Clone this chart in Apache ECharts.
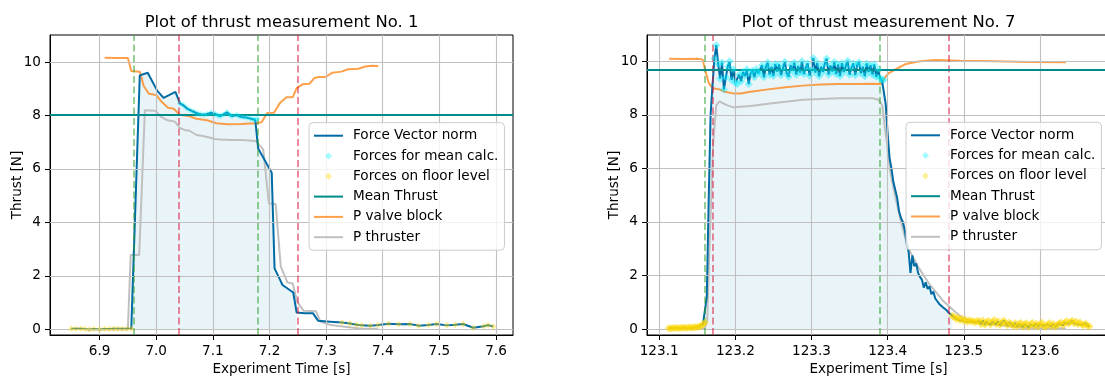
<!DOCTYPE html>
<html>
<head>
<meta charset="utf-8">
<script src="https://cdn.jsdelivr.net/npm/echarts@6/dist/echarts.min.js"></script>
<style>html,body{margin:0;padding:0;background:#fff;}#c{width:1105px;height:376px;}</style>
</head>
<body>
<div id="c"></div>
<script>
// ===== Measurement No. 1 =====
const m1Title = 'Plot of thrust measurement No. 1';
const m1ForceT = [6.850,6.858,6.867,6.874,6.882,6.890,6.900,6.909,6.917,6.925,6.932,6.940,6.948,6.956,6.971,6.985,7.002,7.013,7.034,7.042,7.048,7.054,7.060,7.066,7.072,7.078,7.084,7.090,7.097,7.104,7.109,7.113,7.119,7.125,7.130,7.134,7.142,7.148,7.154,7.160,7.166,7.171,7.175,7.178,7.180,7.204,7.209,7.219,7.223,7.242,7.248,7.262,7.277,7.286,7.307,7.328,7.342,7.354,7.363,7.378,7.392,7.410,7.428,7.448,7.463,7.481,7.495,7.513,7.528,7.542,7.560,7.578,7.586,7.595];
const m1ForceV = [0.02,0.02,0.02,0.01,0.00,0.01,0.00,0.01,0.01,0.02,0.02,0.02,0.02,0.02,9.50,9.60,8.92,8.66,8.88,8.45,8.38,8.27,8.20,8.14,8.08,8.05,8.03,8.06,8.10,8.06,8.00,7.98,8.04,8.12,8.03,7.98,8.02,7.96,7.93,7.92,7.89,7.86,7.83,7.89,6.77,5.86,2.28,1.84,1.66,1.38,0.63,0.60,0.60,0.32,0.29,0.26,0.22,0.17,0.15,0.14,0.16,0.21,0.19,0.20,0.14,0.16,0.20,0.15,0.17,0.20,0.06,0.12,0.16,0.11];
const m1ValveT = [6.909,6.930,6.950,6.956,6.971,6.978,6.987,7.000,7.010,7.021,7.031,7.042,7.059,7.071,7.090,7.106,7.126,7.150,7.175,7.186,7.196,7.208,7.219,7.230,7.241,7.248,7.259,7.271,7.279,7.287,7.299,7.311,7.327,7.339,7.357,7.369,7.381,7.392];
const m1ValveV = [10.16,10.15,10.15,9.66,9.64,9.10,8.81,8.77,8.50,8.29,8.25,8.03,7.97,7.88,7.82,7.71,7.67,7.68,7.71,7.75,8.09,8.10,8.48,8.68,8.68,9.02,9.17,9.19,9.40,9.44,9.44,9.60,9.64,9.73,9.75,9.83,9.86,9.85];
const m1ThrT = [6.909,6.950,6.955,6.970,6.980,6.998,7.008,7.020,7.033,7.042,7.050,7.059,7.071,7.083,7.104,7.114,7.132,7.150,7.176,7.189,7.199,7.211,7.220,7.232,7.241,7.249,7.260,7.282,7.290,7.308,7.333,7.363,7.392];
const m1ThrV = [0.00,0.00,2.78,2.78,8.20,8.18,7.96,7.82,7.77,7.53,7.46,7.43,7.27,7.23,7.12,7.10,7.08,7.08,7.05,6.72,4.71,4.69,2.34,1.75,1.72,1.03,0.70,0.68,0.29,0.16,0.10,0.02,0.02];
const m1Mean = 8.03;
const m1Green = [6.956, 7.176];
const m1Red = [7.043, 7.249];
const m1MeanRange = [7.042, 7.178];
const m1FloorRanges = [[6.84, 6.957], [7.327, 7.60]];
const m1FillRange = [6.956, 7.249];
const m1XRange = [6.8125, 7.630];
const m1YRange = [-0.21, 11.01];
const m1XTicks = [6.9, 7.0, 7.1, 7.2, 7.3, 7.4, 7.5, 7.6];

// ===== Measurement No. 7 =====
const m7Title = 'Plot of thrust measurement No. 7';
const m7ForceStart = 123.1125;
const m7ForceStep = 0.0025;
const m7ForceV = [
 0.03,0.02,0.04,0.03,0.05,0.04,0.03,0.05,0.06,0.04,0.05,0.07,0.05,0.06,0.08,0.07,0.10,0.12,0.18,0.25,
 1.2,4.8,8.0,9.1,10.1,10.6,9.9,9.35,9.95,8.95,9.4,9.8,10.0,9.3,9.7,9.2,9.15,9.5,9.25,9.6,9.45,9.7,9.15,9.55,9.65,9.4,9.7,9.55,
 9.55,9.85,9.40,9.78,9.95,9.50,9.80,9.45,9.90,9.62,
 9.88,9.48,9.75,9.98,9.55,9.42,9.86,9.65,9.95,9.50,
 9.82,9.58,10.0,9.52,9.76,9.92,9.46,9.70,10.12,9.58,
 9.94,9.44,9.80,9.60,9.92,10.10,9.50,9.84,9.62,9.97,
 9.52,9.88,9.45,9.93,9.60,9.82,10.02,9.50,9.76,9.92,
 9.48,9.86,9.96,9.55,9.80,9.44,9.92,9.60,9.85,9.50,
 9.88,9.42,9.70,9.38,9.30,
 9.3,
 8.4,7.3,6.4,6.0,5.5,5.2,4.9,4.4,4.15,4.0,3.7,3.2,2.9,2.1,2.75,2.35,2.45,2.1,1.95,1.85,1.55,1.75,1.5,1.6,1.3,1.4,1.15,1.05,0.95,0.9,0.82,0.75,0.7,0.62,0.55,0.5,0.45,0.38,0.42,0.33,0.4,0.3,0.35,0.27,0.33,0.28,0.3,0.25,0.3,
 0.30,0.18,0.32,0.16,0.26,0.31,0.17,0.27,0.34,0.19,
 0.29,0.15,0.24,0.32,0.22,0.14,0.25,0.18,0.12,0.23,
 0.10,0.19,0.24,0.09,0.18,0.22,0.08,0.17,0.24,0.12,
 0.20,0.10,0.18,0.25,0.12,0.08,0.17,0.23,0.11,0.19,
 0.09,0.15,0.21,0.25,0.14,0.24,0.30,0.20,0.27,0.31,
 0.21,0.28,0.18,0.25,0.17,0.14,0.21,0.13,0.10
];
const m7ValveT = [123.113,123.130,123.150,123.157,123.161,123.165,123.170,123.179,123.186,123.197,123.207,123.220,123.243,123.266,123.289,123.312,123.335,123.358,123.380,123.392,123.396,123.402,123.412,123.424,123.440,123.463,123.495,123.541,123.586,123.634];
const m7ValveV = [10.09,10.08,10.09,10.07,9.61,9.20,8.99,8.95,8.86,8.80,8.80,8.86,8.95,9.03,9.09,9.13,9.15,9.15,9.16,9.15,9.38,9.57,9.72,9.90,9.99,10.05,10.02,10.00,9.97,9.96];
const m7ThrT = [123.113,123.160,123.163,123.166,123.171,123.175,123.179,123.188,123.197,123.220,123.243,123.266,123.289,123.335,123.380,123.388,123.393,123.396,123.399,123.403,123.410,123.417,123.426,123.440,123.454,123.472,123.486,123.499,123.518,123.545,123.577,123.634];
const m7ThrV = [0.02,0.03,0.30,3.00,7.00,8.35,8.50,8.37,8.28,8.33,8.41,8.49,8.56,8.62,8.62,8.56,8.35,7.60,6.94,5.94,4.94,4.07,3.08,2.33,1.71,1.08,0.71,0.40,0.27,0.15,0.05,0.02];
const m7Mean = 9.68;
const m7Green = [123.161, 123.395];
const m7Red = [123.172, 123.485];
const m7MeanRange = [123.172, 123.395];
const m7FloorRanges = [[123.11, 123.162], [123.485, 123.67]];
const m7FillRange = [123.161, 123.485];
const m7XRange = [123.084, 123.692];
const m7YRange = [-0.22, 10.98];
const m7XTicks = [123.1, 123.2, 123.3, 123.4, 123.5, 123.6];

const yTicks = [0, 2, 4, 6, 8, 10];
const legendNames = ['Force Vector norm', 'Forces for mean calc.', 'Forces on floor level', 'Mean Thrust', 'P valve block', 'P thruster'];

// ===== styling =====
const FONT = 'DejaVu Sans';
const FS = 13.6;
const C_FORCE = '#006ba4';
const C_MEAN = '#008b8b', C_VALVE = 'rgba(255,128,14,0.75)', C_THR = '#c0c0c0';
const C_GREEN = 'rgba(44,160,44,0.5)', C_RED = 'rgba(220,20,60,0.5)';
const C_GRID = '#c0c0c0';
const ICON_LINE = 'path://M0,0 M29,7 M0,2.5 L29,2.5 L29,4.5 L0,4.5 Z';
const ICON_DIAMOND = 'path://M0,0 M29,7 M14.5,0 L18,3.5 L14.5,7 L11,3.5 Z';

const m7ForceT = m7ForceV.map((_, i) => +(m7ForceStart + i * m7ForceStep).toFixed(4));

function pairs(ts, vs) { return ts.map((t, i) => [t, vs[i]]); }
function within(pts, r) { return pts.filter(p => p[0] >= r[0] - 1e-9 && p[0] <= r[1] + 1e-9); }

const charts = [
  {title: m1Title, fT: m1ForceT, fV: m1ForceV, vT: m1ValveT, vV: m1ValveV, tT: m1ThrT, tV: m1ThrV, mean: m1Mean,
   green: m1Green, red: m1Red, meanR: m1MeanRange, floorR: m1FloorRanges, fillR: m1FillRange, xr: m1XRange, yr: m1YRange, xt: m1XTicks,
   grid: {left: 50, top: 35, width: 463, height: 300}, legendPos: {left: 309, top: 122.7}, ms: 6.5,
   cMeanPts: 'rgba(0,240,255,0.45)', cFloor: 'rgba(255,215,0,0.5)'},
  {title: m7Title, fT: m7ForceT, fV: m7ForceV, vT: m7ValveT, vV: m7ValveV, tT: m7ThrT, tV: m7ThrV, mean: m7Mean,
   green: m7Green, red: m7Red, meanR: m7MeanRange, floorR: m7FloorRanges, fillR: m7FillRange, xr: m7XRange, yr: m7YRange, xt: m7XTicks,
   grid: {left: 647, top: 35, width: 463, height: 300}, legendPos: {left: 906, top: 122.3}, ms: 8,
   cMeanPts: 'rgba(0,240,255,0.55)', cFloor: 'rgba(255,215,0,0.7)'}
];

const option = {animation: false, title: [], grid: [], xAxis: [], yAxis: [], legend: [], series: []};
const txt = {fontFamily: FONT, fontSize: FS, color: '#000'};
const legendData = legendNames.map((n, i) => ({name: n, icon: (i === 1 || i === 2) ? ICON_DIAMOND : ICON_LINE}));

charts.forEach((d, k) => {
  const g = d.grid;
  option.title.push({text: d.title, left: g.left + g.width / 2, top: 14, textAlign: 'center', padding: 0,
    textStyle: {fontFamily: FONT, fontSize: 16.4, fontWeight: 'normal', color: '#000', lineHeight: 18}});
  option.grid.push(Object.assign({show: true, borderColor: '#000', borderWidth: 1, backgroundColor: 'transparent',
    containLabel: false, outerBoundsMode: 'none'}, g));
  option.xAxis.push({type: 'value', gridIndex: k, min: d.xr[0], max: d.xr[1],
    axisLine: {show: true, onZero: false, lineStyle: {color: '#000', width: 1}},
    axisTick: {show: true, inside: false, length: 5, lineStyle: {color: '#000', width: 1}, customValues: d.xt},
    axisLabel: {show: true, customValues: d.xt, margin: 9, formatter: v => v.toFixed(1), ...txt},
    splitLine: {show: false},
    name: 'Experiment Time [s]', nameLocation: 'middle', nameGap: 25, nameTextStyle: txt});
  option.yAxis.push({type: 'value', gridIndex: k, min: d.yr[0], max: d.yr[1],
    axisLine: {show: true, onZero: false, lineStyle: {color: '#000', width: 1}},
    axisTick: {show: true, inside: false, length: 5, lineStyle: {color: '#000', width: 1}, customValues: yTicks},
    axisLabel: {show: true, customValues: yTicks, margin: 9, formatter: v => String(v), ...txt},
    splitLine: {show: false},
    name: 'Thrust [N]', nameLocation: 'middle', nameGap: 25.5, nameRotate: 90, nameMoveOverlap: false, nameTextStyle: txt});
  option.legend.push({data: legendData, orient: 'vertical', left: d.legendPos.left, top: d.legendPos.top,
    itemWidth: 29, itemHeight: 7, itemGap: 6.3, padding: [6, 6, 6, 5], selectedMode: false,
    itemStyle: {borderWidth: 0},
    backgroundColor: 'rgba(255,255,255,0.8)', borderColor: '#cccccc', borderWidth: 1, borderRadius: 4,
    textStyle: {fontFamily: FONT, fontSize: FS, color: '#000', lineHeight: 14, padding: [0, 0, 0, 5]}, z: 20});

  const ax = {xAxisIndex: k, yAxisIndex: k};
  const force = pairs(d.fT, d.fV);
  const noLbl = {show: false};
  option.series.push(
    {...ax, type: 'line', name: '_grid' + k, data: [], z: 0, silent: true,
     markLine: {symbol: ['none', 'none'], silent: true, label: noLbl, animation: false,
       lineStyle: {color: C_GRID, width: 1.1, type: 'solid'},
       data: d.xt.map(v => ({xAxis: v})).concat(yTicks.map(v => ({yAxis: v})))}},
    {...ax, type: 'line', name: '_fill' + k, data: within(force, d.fillR), symbol: 'none', silent: true, z: 1,
     lineStyle: {width: 0, color: 'transparent'}, areaStyle: {color: 'rgba(173,216,230,0.4)', origin: 0}},
    {...ax, type: 'line', name: 'P thruster', data: pairs(d.tT, d.tV), symbol: 'none', z: 2, silent: true,
     lineStyle: {color: C_THR, width: 2}, itemStyle: {color: C_THR}},
    {...ax, type: 'line', name: 'P valve block', data: pairs(d.vT, d.vV), symbol: 'none', z: 3, silent: true,
     lineStyle: {color: C_VALVE, width: 2}, itemStyle: {color: C_VALVE}},
    {...ax, type: 'line', name: '_vlines' + k, data: [], z: 3, silent: true,
     markLine: {symbol: ['none', 'none'], silent: true, label: noLbl, animation: false,
       data: d.green.map(v => ({xAxis: v, lineStyle: {color: C_GREEN, width: 2, type: [7, 3.5]}}))
         .concat(d.red.map(v => ({xAxis: v, lineStyle: {color: C_RED, width: 2, type: [7, 3.5]}})))}},
    {...ax, type: 'line', name: 'Force Vector norm', data: force, symbol: 'none', z: 4, silent: true,
     lineStyle: {color: C_FORCE, width: 2}, itemStyle: {color: C_FORCE}},
    {...ax, type: 'scatter', name: 'Forces for mean calc.', data: within(force, d.meanR), symbol: 'diamond', symbolSize: d.ms,
     z: 5, silent: true, itemStyle: {color: d.cMeanPts}},
    {...ax, type: 'scatter', name: 'Forces on floor level',
     data: d.floorR.reduce((a, r) => a.concat(within(force, r)), []), symbol: 'diamond', symbolSize: d.ms,
     z: 6, silent: true, itemStyle: {color: d.cFloor}},
    {...ax, type: 'line', name: 'Mean Thrust', data: [], symbol: 'none', z: 7, silent: true,
     lineStyle: {color: C_MEAN, width: 2}, itemStyle: {color: C_MEAN},
     markLine: {symbol: ['none', 'none'], silent: true, label: noLbl, animation: false,
       lineStyle: {color: C_MEAN, width: 2, type: 'solid'}, data: [{yAxis: d.mean}]}}
  );
});

const chart = echarts.init(document.getElementById('c'), null, {renderer: 'canvas'});
chart.setOption(option);
</script>
</body>
</html>
